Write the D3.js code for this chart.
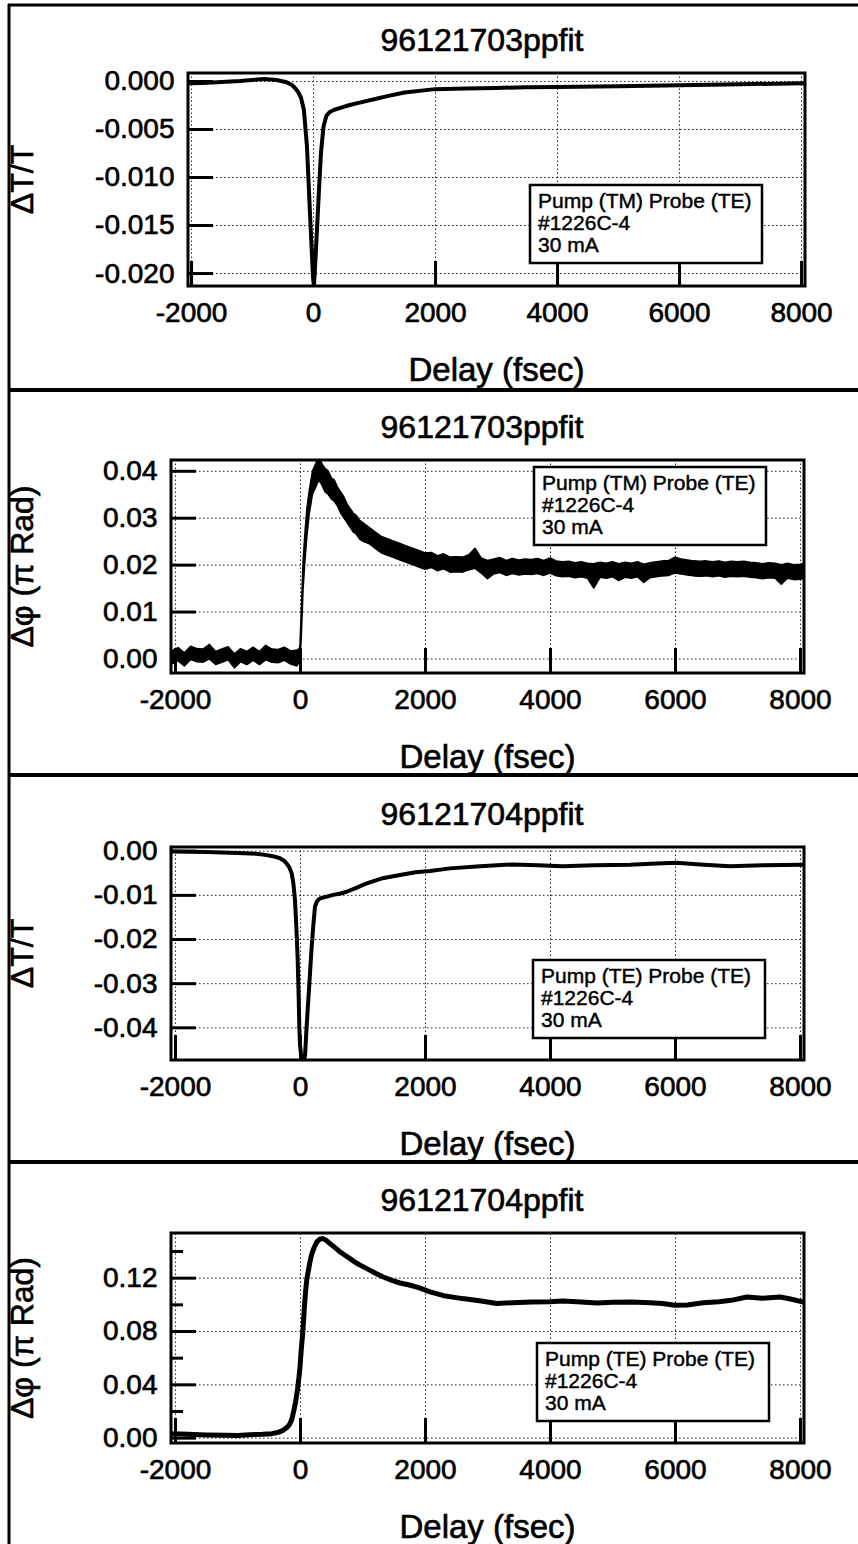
<!DOCTYPE html>
<html><head><meta charset="utf-8">
<script src="https://cdn.jsdelivr.net/npm/d3@7"></script>
<style>
body{margin:0;background:#fff;}
svg text{font-family:"Liberation Sans", Arial, Helvetica, sans-serif; fill:#000; stroke:#000; stroke-width:0.65px;}
svg text.legend{stroke-width:0.45px;}
</style></head><body>
<svg id="chart" width="858" height="1544" xmlns="http://www.w3.org/2000/svg"></svg>
<script>
// ---------------- DATA ----------------
const titles = ["96121703ppfit", "96121703ppfit", "96121704ppfit", "96121704ppfit"];
const yTitles = ["ΔT/T", "Δφ (π Rad)", "ΔT/T", "Δφ (π Rad)"];
const xTitle = "Delay (fsec)";
const legendTexts = [
  ["Pump (TM) Probe (TE)", "#1226C-4", "30 mA"],
  ["Pump (TM) Probe (TE)", "#1226C-4", "30 mA"],
  ["Pump (TE) Probe (TE)", "#1226C-4", "30 mA"],
  ["Pump (TE) Probe (TE)", "#1226C-4", "30 mA"]
];
const xTicks = [-2000, 0, 2000, 4000, 6000, 8000];
const xTickLabels = ["-2000", "0", "2000", "4000", "6000", "8000"];

const p1Ticks = [0, -0.005, -0.010, -0.015, -0.020];
const p1TickLabels = ["0.000", "-0.005", "-0.010", "-0.015", "-0.020"];
const p2Ticks = [0.04, 0.03, 0.02, 0.01, 0.00];
const p2TickLabels = ["0.04", "0.03", "0.02", "0.01", "0.00"];
const p3Ticks = [0, -0.01, -0.02, -0.03, -0.04];
const p3TickLabels = ["0.00", "-0.01", "-0.02", "-0.03", "-0.04"];
const p4Ticks = [0.12, 0.08, 0.04, 0.00];
const p4TickLabels = ["0.12", "0.08", "0.04", "0.00"];
const p4MinorTicks = [0.02, 0.06, 0.10, 0.14];

// Panel 1: dT/T, pump TM
const p1x = [-2040,-1800,-1500,-1200,-1000,-800,-600,-450,-350,-300,-250,-200,-150,-100,-50,0,15,40,70,100,130,170,220,280,350,450,600,800,1000,1200,1500,2000,2500,3000,3500,4000,5000,6000,7000,8040];
const p1y = [-0.00025,-0.0002,-0.0001,0.0,0.0001,0.0002,0.0001,-0.0001,-0.0004,-0.0007,-0.0011,-0.0017,-0.0030,-0.0068,-0.0138,-0.0205,-0.0214,-0.0185,-0.0148,-0.0110,-0.0075,-0.0048,-0.0036,-0.0032,-0.0030,-0.0028,-0.0025,-0.0022,-0.0019,-0.0016,-0.0012,-0.00085,-0.00078,-0.00072,-0.00066,-0.00062,-0.00054,-0.00045,-0.00034,-0.00024];

// Panel 2: dphi, pump TM (noisy trace: upper and lower envelope)
const p2x = [-2040,-1950,-1850,-1750,-1650,-1550,-1450,-1350,-1250,-1150,-1050,-950,-850,-750,-650,-550,-450,-350,-250,-150,-50,-10,
  0,25,50,80,110,150,200,250,300,350,400,450,500,550,600,650,700,750,800,850,900,950,1000,
  1100,1200,1300,1400,1500,1600,1700,1800,1900,2000,
  2100,2200,2300,2400,2500,2600,2700,2800,2900,3000,
  3100,3200,3300,3400,3500,3600,3700,3800,3900,4000,
  4100,4200,4300,4400,4500,4600,4700,4800,4900,5000,
  5100,5200,5300,5400,5500,5600,5700,5800,5900,6000,
  6100,6200,6300,6400,6500,6600,6700,6800,6900,7000,
  7100,7200,7300,7400,7500,7600,7700,7800,7900,8000,8040];
const p2hi = [0.0017,0.0023,0.0012,0.0026,0.0021,0.0020,0.0030,0.0015,0.0020,0.0025,0.0010,0.0021,0.0015,0.0024,0.0015,0.0028,0.0020,0.0019,0.0024,0.0016,0.0018,0.0021,
  0.0030,0.0120,0.0210,0.0270,0.0320,0.0360,0.0400,0.0415,0.0430,0.0415,0.0405,0.0400,0.0385,0.0380,0.0365,0.0355,0.0345,0.0330,0.0320,0.0310,0.0305,0.0295,0.0290,
  0.0280,0.0270,0.0260,0.0255,0.0250,0.0245,0.0240,0.0235,0.0230,0.0225,
  0.0226,0.0219,0.0223,0.0216,0.0217,0.0216,0.0221,0.0235,0.0214,0.0209,
  0.0212,0.0215,0.0209,0.0213,0.0210,0.0212,0.0211,0.0213,0.0209,0.0214,
  0.0208,0.0206,0.0207,0.0204,0.0206,0.0203,0.0202,0.0205,0.0203,0.0206,
  0.0202,0.0205,0.0203,0.0206,0.0201,0.0204,0.0206,0.0208,0.0209,0.0216,
  0.0212,0.0210,0.0208,0.0207,0.0208,0.0206,0.0208,0.0205,0.0207,0.0206,
  0.0207,0.0205,0.0204,0.0202,0.0204,0.0203,0.0200,0.0203,0.0200,0.0201,0.0202];
const p2lo = [-0.0011,-0.0005,-0.0016,-0.0002,-0.0007,-0.0008,-0.0001,-0.0013,-0.0008,-0.0003,-0.0020,-0.0007,-0.0013,-0.0004,-0.0013,-0.0003,-0.0008,-0.0009,-0.0004,-0.0012,-0.0016,-0.0007,
  -0.0010,0.0060,0.0150,0.0210,0.0260,0.0310,0.0350,0.0365,0.0380,0.0370,0.0355,0.0350,0.0340,0.0335,0.0325,0.0310,0.0300,0.0290,0.0280,0.0270,0.0265,0.0255,0.0250,
  0.0245,0.0235,0.0225,0.0220,0.0215,0.0210,0.0205,0.0200,0.0195,0.0190,
  0.0194,0.0187,0.0191,0.0184,0.0185,0.0184,0.0189,0.0192,0.0182,0.0170,
  0.0180,0.0183,0.0177,0.0181,0.0178,0.0180,0.0179,0.0181,0.0177,0.0182,
  0.0176,0.0174,0.0175,0.0172,0.0174,0.0171,0.0150,0.0173,0.0171,0.0174,
  0.0166,0.0173,0.0171,0.0174,0.0162,0.0172,0.0174,0.0176,0.0177,0.0182,
  0.0180,0.0178,0.0176,0.0175,0.0176,0.0174,0.0176,0.0173,0.0175,0.0174,
  0.0175,0.0173,0.0172,0.0170,0.0172,0.0171,0.0158,0.0171,0.0168,0.0169,0.0170];

// Panel 3: dT/T, pump TE
const p3x = [-2040,-1500,-1000,-700,-530,-420,-320,-260,-213,-170,-133,-105,-80,-58,-37,-20,-11,0,16,40,60,80,105,133,160,187,215,240,270,320,430,533,650,747,900,1067,1300,1600,1850,2080,2400,2880,3400,3800,4200,4700,5280,5700,6027,6400,6880,7400,8040];
const p3y = [-0.0002,-0.0003,-0.0005,-0.0007,-0.0010,-0.0013,-0.0017,-0.0022,-0.0029,-0.0038,-0.0051,-0.0075,-0.0112,-0.0175,-0.0247,-0.0340,-0.0398,-0.0440,-0.0460,-0.0470,-0.0476,-0.0465,-0.0400,-0.0338,-0.0278,-0.0217,-0.0165,-0.0127,-0.0115,-0.0108,-0.0104,-0.0100,-0.0097,-0.0093,-0.0084,-0.0074,-0.0063,-0.0055,-0.0049,-0.0046,-0.0040,-0.0035,-0.0031,-0.0033,-0.0035,-0.0033,-0.0032,-0.0029,-0.0027,-0.0031,-0.0035,-0.0033,-0.0032];

// Panel 4: dphi, pump TE
const p4x = [-2040,-1800,-1500,-1200,-1000,-800,-600,-450,-350,-270,-200,-160,-130,-100,-70,-40,-15,0,20,45,70,90,110,135,160,190,230,270,320,360,420,480,560,640,720,800,900,1000,1100,1200,1333,1470,1600,1750,1900,2080,2300,2600,2900,3150,3400,3700,4000,4200,4500,4750,5000,5300,5600,5800,6000,6200,6450,6700,6900,7150,7400,7680,7850,8040];
const p4y = [0.0030,0.0025,0.0020,0.0018,0.0017,0.0022,0.0025,0.0030,0.0040,0.0055,0.0080,0.0105,0.0140,0.0200,0.0270,0.0360,0.0460,0.0530,0.0660,0.0790,0.0980,0.1100,0.1190,0.1256,0.1320,0.1380,0.1430,0.1468,0.1490,0.1493,0.1480,0.1456,0.1425,0.1393,0.1368,0.1343,0.1310,0.1285,0.1260,0.1235,0.1205,0.1180,0.1160,0.1145,0.1125,0.1093,0.1065,0.1043,0.1025,0.1006,0.1012,0.1018,0.1020,0.1025,0.1018,0.1010,0.1016,0.1018,0.1012,0.1006,0.0993,0.0995,0.1012,0.1020,0.1030,0.1055,0.1045,0.1055,0.1040,0.1018];

// ---------------- LAYOUT ----------------
const W = 858, H = 1544;
const panels = [
  {top: 4,    frame: [188, 805, 73, 286],    xdom: [-2050, 8065], ydom: [-0.02135, 0.00083],
   ticks: p1Ticks, tickLabels: p1TickLabels, minor: [], legend: [342, 112], lineW: 4,
   series: {type: "line", x: p1x, y: p1y}},
  {top: 390,  frame: [171, 804, 460, 673],   xdom: [-2064, 8064], ydom: [-0.0031, 0.0423],
   ticks: p2Ticks, tickLabels: p2TickLabels, minor: [], legend: [363, 7], lineW: 1.5,
   series: {type: "band", x: p2x, hi: p2hi, lo: p2lo}},
  {top: 775,  frame: [171, 804, 847, 1060],  xdom: [-2064, 8064], ydom: [-0.0474, 0.00084],
   ticks: p3Ticks, tickLabels: p3TickLabels, minor: [], legend: [362, 113], lineW: 4,
   series: {type: "line", x: p3x, y: p3y}},
  {top: 1162, frame: [171, 804, 1233, 1443], xdom: [-2064, 8064], ydom: [-0.004, 0.1535],
   ticks: p4Ticks, tickLabels: p4TickLabels, minor: p4MinorTicks, legend: [366, 110], lineW: 5,
   series: {type: "line", x: p4x, y: p4y}}
];

const svg = d3.select("#chart");
svg.append("rect").attr("width", W).attr("height", H).attr("fill", "#fff");
const defs = svg.append("defs");

function styleAxis(sel, fontSize) {
  sel.attr("font-family", '"Liberation Sans", Arial, Helvetica, sans-serif')
     .attr("font-size", fontSize);
  sel.select(".domain").remove();
  sel.selectAll("text").attr("fill", "#000");
}

panels.forEach((p, i) => {
  const [fx0, fx1, fy0, fy1] = p.frame;
  const x = d3.scaleLinear().domain(p.xdom).range([fx0, fx1]);
  const y = d3.scaleLinear().domain(p.ydom).range([fy1, fy0]);
  const g = svg.append("g").attr("class", "panel" + (i + 1));

  defs.append("clipPath").attr("id", "clip" + i)
    .append("rect").attr("x", fx0).attr("y", fy0).attr("width", fx1 - fx0).attr("height", fy1 - fy0);

  // grid lines (dotted)
  g.append("g").attr("transform", `translate(0,${fy1})`)
    .call(d3.axisBottom(x).tickValues(xTicks).tickSize(-(fy1 - fy0)).tickFormat(""))
    .call(s => { s.select(".domain").remove();
      s.selectAll("line").attr("stroke", "#222").attr("stroke-width", 1).attr("stroke-dasharray", "1.5,2.5"); });
  g.append("g").attr("transform", `translate(${fx0},0)`)
    .call(d3.axisLeft(y).tickValues(p.ticks).tickSize(-(fx1 - fx0)).tickFormat(""))
    .call(s => { s.select(".domain").remove();
      s.selectAll("line").attr("stroke", "#222").attr("stroke-width", 1).attr("stroke-dasharray", "1.5,2.5"); });

  // data
  const dg = g.append("g").attr("clip-path", `url(#clip${i})`);
  const s = p.series;
  if (s.type === "line") {
    const pts = s.x.map((v, k) => [v, s.y[k]]);
    dg.append("path").datum(pts)
      .attr("fill", "none").attr("stroke", "#000").attr("stroke-width", p.lineW)
      .attr("stroke-linejoin", "round").attr("stroke-linecap", "round")
      .attr("d", d3.line().x(d => x(d[0])).y(d => y(d[1])));
  } else {
    const pts = s.x.map((v, k) => [v, s.lo[k], s.hi[k]]);
    dg.append("path").datum(pts)
      .attr("fill", "#000").attr("stroke", "#000").attr("stroke-width", p.lineW)
      .attr("stroke-linejoin", "round")
      .attr("d", d3.area().x(d => x(d[0])).y0(d => y(d[1])).y1(d => y(d[2])));
  }

  // ticks and labels
  g.append("g").attr("transform", `translate(${fx0},0)`)
    .call(d3.axisLeft(y).tickValues(p.ticks).tickSize(-25).tickPadding(13.5)
      .tickFormat((d, k) => p.tickLabels[k]))
    .call(sel => { styleAxis(sel, 28); sel.selectAll("line").attr("stroke", "#000").attr("stroke-width", 3); });
  if (p.minor.length) {
    g.append("g").attr("transform", `translate(${fx0},0)`)
      .call(d3.axisLeft(y).tickValues(p.minor).tickSize(-12).tickFormat(""))
      .call(sel => { sel.select(".domain").remove(); sel.selectAll("line").attr("stroke", "#000").attr("stroke-width", 3); });
  }
  g.append("g").attr("transform", `translate(0,${fy1})`)
    .call(d3.axisBottom(x).tickValues(xTicks).tickSize(-25).tickPadding(16)
      .tickFormat((d, k) => xTickLabels[k]))
    .call(sel => { styleAxis(sel, 28); sel.selectAll("line").attr("stroke", "#000").attr("stroke-width", 3); });

  // frame
  g.append("rect").attr("x", fx0).attr("y", fy0).attr("width", fx1 - fx0).attr("height", fy1 - fy0)
    .attr("fill", "none").attr("stroke", "#000").attr("stroke-width", 3);

  // title
  g.append("text").attr("x", 482).attr("y", fy0 - 22).attr("text-anchor", "middle")
    .attr("font-size", 32).text(titles[i]);
  // x title
  g.append("text").attr("x", (fx0 + fx1) / 2).attr("y", fy1 + 95).attr("text-anchor", "middle")
    .attr("font-size", 33).text(xTitle);
  // y title
  g.append("text").attr("transform", `translate(33,${(fy0 + fy1) / 2}) rotate(-90)`)
    .attr("text-anchor", "middle").attr("font-size", 32).text(yTitles[i]);

  // legend box
  const lx = fx0 + p.legend[0], ly = fy0 + p.legend[1];
  const lg = g.append("g");
  lg.append("rect").attr("x", lx).attr("y", ly).attr("width", 232).attr("height", 78)
    .attr("fill", "#fff").attr("stroke", "#000").attr("stroke-width", 2.5);
  legendTexts[i].forEach((t, k) => {
    lg.append("text").attr("class", "legend").attr("x", lx + 8).attr("y", ly + 22.5 + k * 22)
      .attr("font-size", 21).text(t);
  });
});

// outer border and separators
const border = svg.append("g").attr("stroke", "#000");
border.append("line").attr("x1", 8).attr("x2", W).attr("y1", 5).attr("y2", 5).attr("stroke-width", 3);
border.append("line").attr("x1", 9).attr("x2", 9).attr("y1", 4).attr("y2", H).attr("stroke-width", 3);
panels.slice(1).forEach(p => {
  border.append("line").attr("x1", 8).attr("x2", W).attr("y1", p.top).attr("y2", p.top).attr("stroke-width", 4);
});
</script>
</body></html>
